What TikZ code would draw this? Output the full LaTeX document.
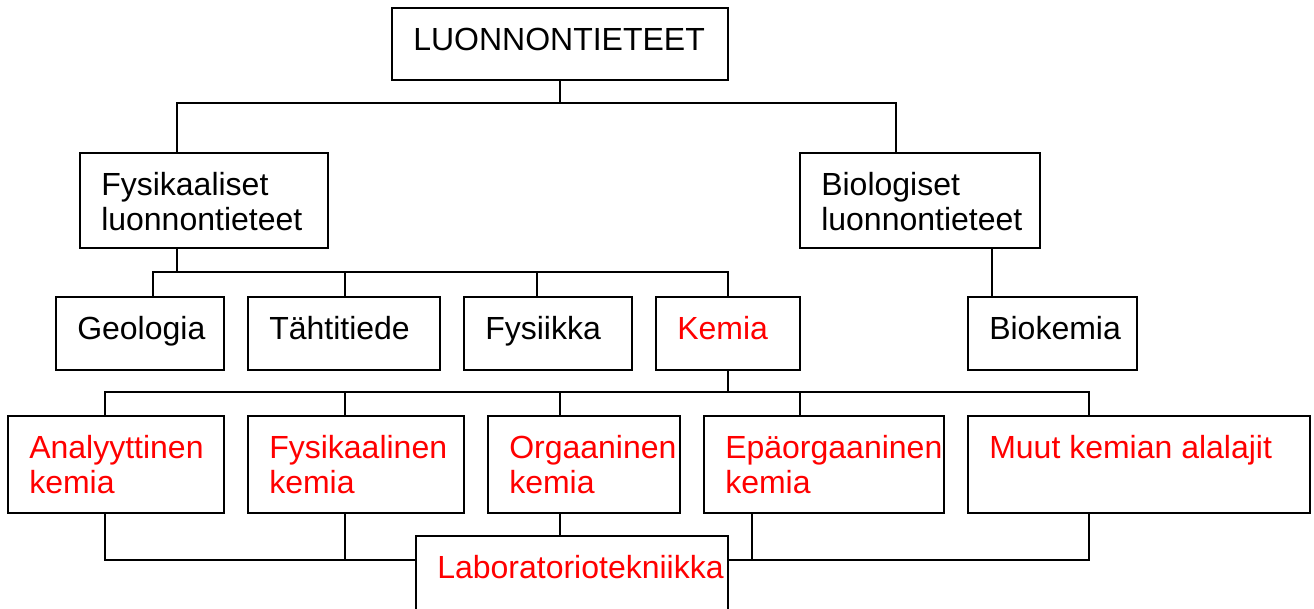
\documentclass[tikz,border=0pt]{standalone}
\usepackage{fontspec}
\setmainfont{Liberation Sans}
\usetikzlibrary{fit}
\tikzset{
  box/.style={draw=black, line width=1.5pt, inner sep=0pt},
  lbl/.style={anchor=base west, inner sep=0pt, font=\fontsize{24}{26}\selectfont},
  conn/.style={draw=black, line width=1.3pt},
}
% #1 name, #2 left, #3 top, #4 right, #5 bottom, #6 colour, #7 line 1, #8 line 2
\newcommand\mybox[8]{%
  \node[box, fit={(#2,#3) (#4,#5)}] (#1) {};
  \node[lbl, text=#6] (#1a) at (#2+21,#3+42) {#7};
  \node[lbl, text=#6] (#1b) at (#2+21,#3+77) {#8};
}
\begin{document}
\begin{tikzpicture}[x=0.75pt,y=-0.75pt]
\useasboundingbox (0,0) rectangle (1314,608);
\clip (0,0) rectangle (1314,608);
\fill[white] (0,0) rectangle (1314,608);

\mybox{root}{392}{8}{728}{80}{black}{LUONNONTIETEET}{}
\mybox{fys}{80}{153}{328}{248}{black}{Fysikaaliset}{luonnontieteet}
\mybox{bio}{800}{153}{1040}{248}{black}{Biologiset}{luonnontieteet}
\mybox{geo}{56}{297}{224}{370}{black}{Geologia}{}
\mybox{taht}{248}{297}{440}{370}{black}{Tähtitiede}{}
\mybox{fysi}{464}{297}{632}{370}{black}{Fysiikka}{}
\mybox{kem}{656}{297}{800}{370}{red}{Kemia}{}
\mybox{biok}{968}{297}{1137}{370}{black}{Biokemia}{}
\mybox{ana}{8}{416}{224}{513}{red}{Analyyttinen}{kemia}
\mybox{fyk}{248}{416}{464}{513}{red}{Fysikaalinen}{kemia}
\mybox{org}{488}{416}{680}{513}{red}{Orgaaninen}{kemia}
\mybox{epa}{704}{416}{944}{513}{red}{Epäorgaaninen}{kemia}
\mybox{muut}{968}{416}{1310}{513}{red}{Muut kemian alalajit}{}
\mybox{lab}{416}{536}{728}{640}{red}{Laboratoriotekniikka}{}

% x positions of the vertical connectors
\coordinate (xa) at (105,0);
\coordinate (xb) at (153,0);
\coordinate (xc) at (177,0);
\coordinate (xd) at (345,0);
\coordinate (xe) at (537,0);
\coordinate (xf) at (560,0);
\coordinate (xg) at (728,0);
\coordinate (xh) at (752,0);
\coordinate (xi) at (800,0);
\coordinate (xj) at (896,0);
\coordinate (xk) at (992,0);
\coordinate (xl) at (1089,0);
% y positions of the buses
\coordinate (ya) at (0,103);
\coordinate (yb) at (0,272);
\coordinate (yc) at (0,392);
\coordinate (yd) at (0,560);

% level 1
\draw[conn] (root.south) -- (root.south |- ya);
\draw[conn] (fys.north -| xc) |- (xj |- ya) -- (bio.north -| xj);
% level 2
\draw[conn] (fys.south -| xc) -- (xc |- yb);
\draw[conn] (geo.north -| xb) |- (xg |- yb) -- (kem.north -| xg);
\draw[conn] (taht.north -| xd) -- (xd |- yb);
\draw[conn] (fysi.north -| xe) -- (xe |- yb);
\draw[conn] (bio.south -| xk) -- (biok.north -| xk);
% level 3
\draw[conn] (kem.south -| xg) -- (xg |- yc);
\draw[conn] (ana.north -| xa) |- (xl |- yc) -- (muut.north -| xl);
\draw[conn] (fyk.north -| xd) -- (xd |- yc);
\draw[conn] (org.north -| xf) -- (xf |- yc);
\draw[conn] (epa.north -| xi) -- (xi |- yc);
% bottom
\draw[conn] (ana.south -| xa) |- (lab.west |- yd);
\draw[conn] (fyk.south -| xd) -- (xd |- yd);
\draw[conn] (org.south -| xf) -- (lab.north -| xf);
\draw[conn] (lab.east |- yd) -- (xl |- yd) -- (muut.south -| xl);
\draw[conn] (epa.south -| xh) -- (xh |- yd);
\end{tikzpicture}
\end{document}
